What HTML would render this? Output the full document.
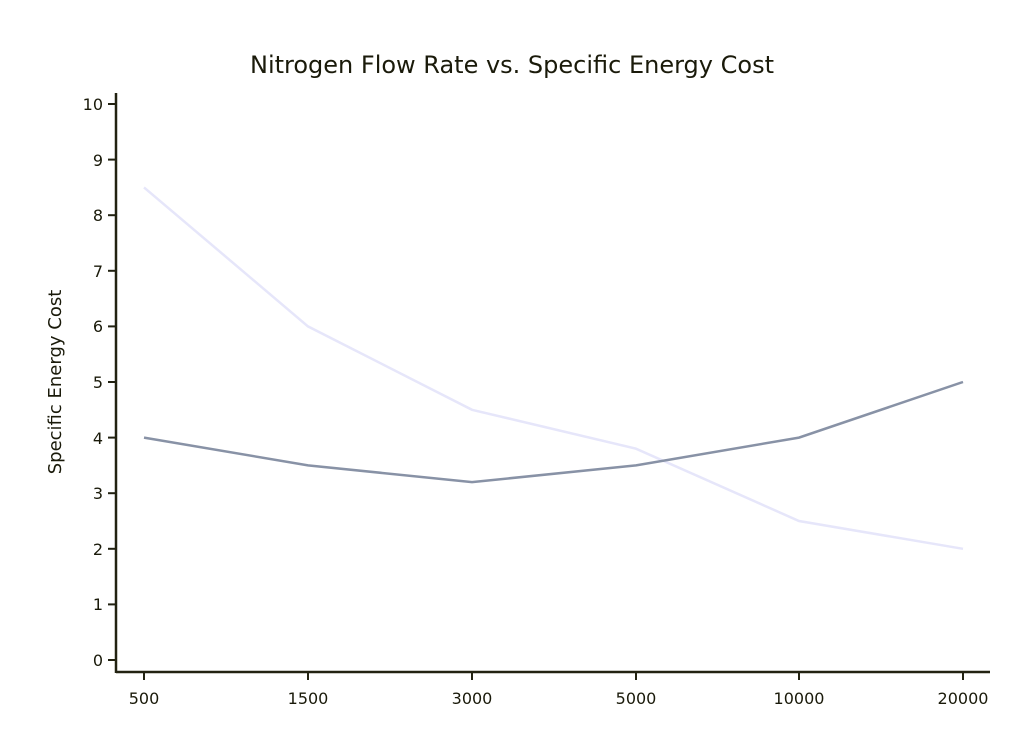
<!DOCTYPE html>
<html><head><meta charset="utf-8"><style>
html,body{margin:0;padding:0;background:#fff;}
svg{display:block;font-family:"DejaVu Sans","Liberation Sans",sans-serif;}
</style></head><body>
<svg width="1024" height="751" viewBox="0 0 1024 751" xmlns="http://www.w3.org/2000/svg">
<rect width="1024" height="751" fill="#fff"/>
<text x="512" y="73" text-anchor="middle" font-size="24" fill="#1a1a0a">Nitrogen Flow Rate vs. Specific Energy Cost</text>
<text transform="translate(61,382) rotate(-90)" text-anchor="middle" font-size="18" fill="#1a1a0a">Specific Energy Cost</text>
<g stroke="#222211" stroke-width="2.5" fill="none">
<line x1="116" y1="93" x2="116" y2="673"/>
<line x1="116" y1="672" x2="990" y2="672"/>
</g>
<g stroke="#222211" stroke-width="2">
<line x1="108" y1="660" x2="116" y2="660"/>
<line x1="108" y1="604.4" x2="116" y2="604.4"/>
<line x1="108" y1="548.8" x2="116" y2="548.8"/>
<line x1="108" y1="493.2" x2="116" y2="493.2"/>
<line x1="108" y1="437.6" x2="116" y2="437.6"/>
<line x1="108" y1="382" x2="116" y2="382"/>
<line x1="108" y1="326.4" x2="116" y2="326.4"/>
<line x1="108" y1="270.8" x2="116" y2="270.8"/>
<line x1="108" y1="215.2" x2="116" y2="215.2"/>
<line x1="108" y1="159.6" x2="116" y2="159.6"/>
<line x1="108" y1="104" x2="116" y2="104"/>
<line x1="144" y1="672" x2="144" y2="680"/>
<line x1="308" y1="672" x2="308" y2="680"/>
<line x1="472" y1="672" x2="472" y2="680"/>
<line x1="636" y1="672" x2="636" y2="680"/>
<line x1="799" y1="672" x2="799" y2="680"/>
<line x1="963" y1="672" x2="963" y2="680"/>
</g>
<g font-size="16" fill="#1a1a0a" text-anchor="end">
<text x="103" y="666">0</text><text x="103" y="610">1</text><text x="103" y="555">2</text>
<text x="103" y="499">3</text><text x="103" y="444">4</text><text x="103" y="388">5</text>
<text x="103" y="332">6</text><text x="103" y="277">7</text><text x="103" y="221">8</text>
<text x="103" y="166">9</text><text x="103" y="110">10</text>
</g>
<g font-size="16" fill="#1a1a0a" text-anchor="middle">
<text x="144" y="704">500</text><text x="308" y="704">1500</text><text x="472" y="704">3000</text>
<text x="636" y="704">5000</text><text x="799" y="704">10000</text><text x="963" y="704">20000</text>
</g>
<polyline fill="none" stroke="#e6e6fa" stroke-width="2.5" points="144,187.4 308,326.4 472,409.8 636,448.7 799,521 963,548.8"/>
<polyline fill="none" stroke="#8892a6" stroke-width="2.5" points="144,437.6 308,465.4 472,482.1 636,465.4 799,437.6 963,382"/>
</svg>
</body></html>
